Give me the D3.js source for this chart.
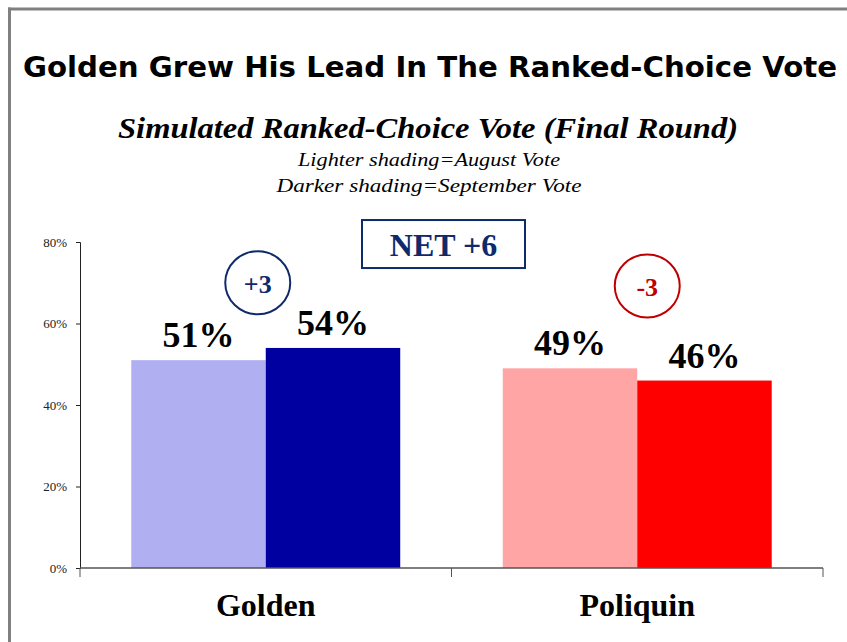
<!DOCTYPE html>
<html>
<head>
<meta charset="utf-8">
<script src="https://cdn.jsdelivr.net/npm/d3@7"></script>
<style>
  body { margin: 0; background: #fff; }
  svg { display: block; }
  .serif { font-family: "Liberation Serif", "Times New Roman", serif; }
  .sans { font-family: "DejaVu Sans", Verdana, sans-serif; }
</style>
</head>
<body>
<div class="chart"></div>
<script>
let categories = ["Golden", "Poliquin"]
let series = ["August", "September"]
let august_vals = [51, 49]
let september_vals = [54, 46]
let change_labels = ["+3", "-3"]
let net_label = "NET +6"
let y_ticks = [0, 20, 40, 60, 80]

let title_text = "Golden Grew His Lead In The Ranked-Choice Vote"
let subtitle_text = "Simulated Ranked-Choice Vote (Final Round)"
let note_lines = ["Lighter shading=August Vote", "Darker shading=September Vote"]

let colors = {
    Golden: ["#afaff2", "#0000a0"],
    Poliquin: ["#ffa5a5", "#ff0000"]
}
let change_colors = ["#0f2a6b", "#c00000"]

let width = 847
let height = 642
let margin = {top: 242, right: 24, bottom: 74, left: 80}

let svg = d3.select(".chart")
    .append("svg")
        .attr("width", width)
        .attr("height", height)

// frame lines (top and left)
svg.append("line")
    .attr("x1", 8).attr("x2", width)
    .attr("y1", 9).attr("y2", 9)
    .attr("stroke", "#808080").attr("stroke-width", 3)
svg.append("line")
    .attr("x1", 9.5).attr("x2", 9.5)
    .attr("y1", 7.5).attr("y2", height)
    .attr("stroke", "#808080").attr("stroke-width", 3)

svg.append("text")
    .attr("class", "sans")
    .attr("x", 430).attr("y", 77)
    .attr("text-anchor", "middle")
    .attr("font-weight", "bold")
    .attr("font-size", 29)
    .attr("textLength", 814)
    .attr("lengthAdjust", "spacingAndGlyphs")
    .text(title_text)

svg.append("text")
    .attr("class", "serif")
    .attr("x", 428).attr("y", 138)
    .attr("text-anchor", "middle")
    .attr("font-weight", "bold")
    .attr("font-style", "italic")
    .attr("font-size", 30)
    .attr("textLength", 620)
    .attr("lengthAdjust", "spacingAndGlyphs")
    .text(subtitle_text)

let note_widths = [262, 305]
note_lines.forEach((line, i) => {
    svg.append("text")
        .attr("class", "serif")
        .attr("x", 429).attr("y", 166 + i * 26)
        .attr("text-anchor", "middle")
        .attr("font-style", "italic")
        .attr("font-size", 19)
        .attr("textLength", note_widths[i])
        .attr("lengthAdjust", "spacingAndGlyphs")
        .text(line)
})

let plot_w = width - margin.left - margin.right
let plot_h = height - margin.top - margin.bottom

let g = svg.append("g")
    .attr("transform", "translate(" + margin.left + "," + margin.top + ")")

let x = d3.scaleBand()
    .domain(categories)
    .range([0, plot_w])
    .paddingInner(0.276)
    .paddingOuter(0.138)

let x_sub = d3.scaleBand()
    .domain(series)
    .range([0, x.bandwidth()])

let y = d3.scaleLinear()
    .domain([0, 80])
    .range([plot_h, 0])

// y axis
let y_axis = g.append("g")
    .call(d3.axisLeft(y).tickValues(y_ticks).tickFormat(d => d + "%").tickSize(4).tickPadding(9))
y_axis.attr("font-family", null)
y_axis.select(".domain").attr("stroke", "#222")
y_axis.selectAll(".tick line").attr("stroke", "#222")
y_axis.selectAll(".tick text")
    .attr("class", "serif")
    .attr("font-size", 13)
    .attr("fill", "#222")

let rows = categories.map((cat, i) => ({
    cat: cat,
    vals: [
        {s: series[0], v: august_vals[i]},
        {s: series[1], v: september_vals[i]}
    ]
}))

let groups = g.selectAll(".cat")
    .data(rows)
    .enter()
    .append("g")
        .attr("class", "cat")
        .attr("transform", d => "translate(" + x(d.cat) + ",0)")

groups.selectAll("rect")
    .data(d => d.vals.map((v, j) => ({...v, color: colors[d.cat][j]})))
    .enter()
    .append("rect")
        .attr("x", d => x_sub(d.s))
        .attr("width", x_sub.bandwidth())
        .attr("y", d => y(d.v))
        .attr("height", d => plot_h - y(d.v))
        .attr("fill", d => d.color)

groups.selectAll(".val")
    .data(d => d.vals)
    .enter()
    .append("text")
        .attr("class", "val serif")
        .attr("x", d => x_sub(d.s) + x_sub.bandwidth() / 2)
        .attr("y", d => y(d.v) - 13)
        .attr("text-anchor", "middle")
        .attr("font-weight", "bold")
        .attr("font-size", 36)
        .text(d => d.v + "%")

// x axis
let x_axis = g.append("g")
    .attr("transform", "translate(0," + plot_h + ")")
x_axis.append("line")
    .attr("x1", 0).attr("x2", plot_w)
    .attr("stroke", "#555").attr("stroke-width", 1.5)
x_axis.selectAll(".xtick")
    .data([0, plot_w / 2, plot_w])
    .enter()
    .append("line")
        .attr("x1", d => d).attr("x2", d => d)
        .attr("y1", 0).attr("y2", 9)
        .attr("stroke", "#555")

x_axis.selectAll(".cat_label")
    .data(categories)
    .enter()
    .append("text")
        .attr("class", "serif")
        .attr("x", d => x(d) + x.bandwidth() / 2)
        .attr("y", 48)
        .attr("text-anchor", "middle")
        .attr("font-weight", "bold")
        .attr("font-size", 32)
        .text(d => d)

// change bubbles
let bubble_offsets = [-8, 10]
let bubble_y = [70, 69.2]
categories.forEach((cat, i) => {
    let cx = x(cat) + x.bandwidth() / 2 + bubble_offsets[i]
    let cy = y(bubble_y[i])
    g.append("ellipse")
        .attr("cx", cx).attr("cy", cy)
        .attr("rx", 32.5).attr("ry", 31.5)
        .attr("fill", "none")
        .attr("stroke", change_colors[i])
        .attr("stroke-width", 2)
    g.append("text")
        .attr("class", "serif")
        .attr("x", cx).attr("y", cy + 10)
        .attr("text-anchor", "middle")
        .attr("font-weight", "bold")
        .attr("font-size", 26)
        .attr("fill", change_colors[i])
        .text(change_labels[i])
})

// net box
let net_cx = plot_w / 2 - 8
let net_cy = y(79.5)
g.append("rect")
    .attr("x", net_cx - 81.5).attr("y", net_cy - 24)
    .attr("width", 163).attr("height", 48)
    .attr("fill", "#fff")
    .attr("stroke", "#0f2a6b")
    .attr("stroke-width", 2)
g.append("text")
    .attr("class", "serif")
    .attr("x", net_cx).attr("y", net_cy + 12)
    .attr("text-anchor", "middle")
    .attr("font-weight", "bold")
    .attr("font-size", 32)
    .attr("fill", "#0f2a6b")
    .text(net_label)
</script>
</body>
</html>
